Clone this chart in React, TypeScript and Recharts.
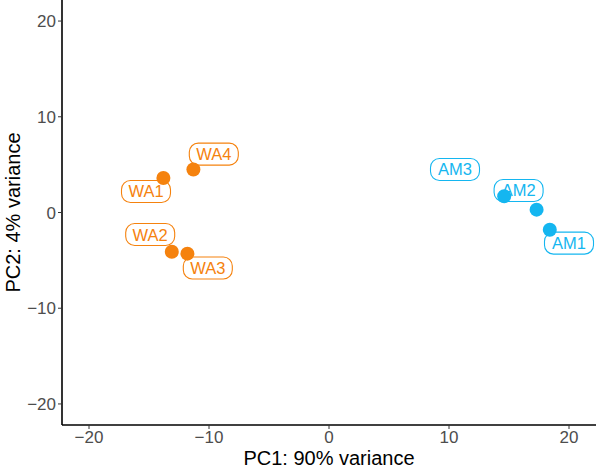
import { ScatterChart, Scatter, XAxis, YAxis } from 'recharts';

const sampleNames = ['WA1', 'WA2', 'WA3', 'WA4', 'AM1', 'AM2', 'AM3'];
const sampleGroup = ['WA', 'WA', 'WA', 'WA', 'AM', 'AM', 'AM'];
const pc1 = [-13.8, -13.1, -11.8, -11.3, 18.4, 17.3, 14.6];
const pc2 = [3.6, -4.1, -4.3, 4.5, -1.8, 0.3, 1.7];
// where the repelled labels ended up, in data units
const labelPc1 = [-15.25, -14.9, -10.1, -9.6, 20.0, 15.8, 10.5];
const labelPc2 = [2.2, -2.3, -5.8, 6.1, -3.2, 2.3, 4.5];
const axisTicks = [-20, -10, 0, 10, 20];

const colors: any = { WA: '#F5820E', AM: '#14B6F0' };
const font = '"Liberation Sans", Arial, sans-serif';

const rows = sampleNames.map((n, i) => ({
  name: n,
  group: sampleGroup[i],
  x: pc1[i],
  y: pc2[i],
  lx: labelPc1[i],
  ly: labelPc2[i],
}));

const pointRows = (g: string) => rows.filter(r => r.group === g);
const labelRows = (g: string) => rows.filter(r => r.group === g).map(r => ({ ...r, x: r.lx, y: r.ly }));

const fmt = (v: number) => String(v).replace('-', '\u2212');

function Dot(props: any) {
  const { cx, cy, fill } = props;
  return <circle cx={cx} cy={cy} r={7} fill={fill} />;
}

function LabelBox(props: any) {
  const { cx, cy, payload } = props;
  const c = colors[payload.group];
  const w = 49;
  const h = 22;
  return (
    <g>
      <rect x={cx - w / 2} y={cy - h / 2} width={w} height={h} rx={9} ry={9} fill="#fff" stroke={c} strokeWidth={1.1} />
      <text x={cx} y={cy} dy={6} textAnchor="middle" fontSize={16.5} fontFamily={font} fill={c}>
        {payload.name}
      </text>
    </g>
  );
}

export default function App() {
  return (
    <div style={{ position: 'absolute', left: 0, top: 0 }}>
      <ScatterChart width={596} height={469} margin={{ top: 0, right: 0, bottom: 0, left: 0 }}>
        <XAxis
          type="number"
          dataKey="x"
          domain={[-22.25, 22.25]}
          allowDataOverflow
          ticks={axisTicks}
          tickFormatter={fmt}
          height={44}
          tickSize={4}
          axisLine={{ stroke: '#000', strokeWidth: 1.6 }}
          tickLine={{ stroke: '#333' }}
          tick={{ fill: '#4D4D4D', fontSize: 17, fontFamily: font }}
          label={{ value: 'PC1: 90% variance', position: 'insideBottom', offset: 4, fill: '#000', fontSize: 20, fontFamily: font }}
        />
        <YAxis
          type="number"
          dataKey="y"
          domain={[-22.2, 22.2]}
          allowDataOverflow
          ticks={axisTicks}
          tickFormatter={fmt}
          width={62}
          tickSize={4}
          axisLine={{ stroke: '#000', strokeWidth: 1.6 }}
          tickLine={{ stroke: '#333' }}
          tick={{ fill: '#4D4D4D', fontSize: 17, fontFamily: font }}
          label={{ value: 'PC2: 4% variance', angle: -90, position: 'insideLeft', offset: 13, fill: '#000', fontSize: 20, fontFamily: font, style: { textAnchor: 'middle' } }}
        />
        <Scatter data={labelRows('WA')} shape={LabelBox} isAnimationActive={false} />
        <Scatter data={labelRows('AM')} shape={LabelBox} isAnimationActive={false} />
        <Scatter data={pointRows('WA')} fill={colors.WA} shape={Dot} isAnimationActive={false} />
        <Scatter data={pointRows('AM')} fill={colors.AM} shape={Dot} isAnimationActive={false} />
      </ScatterChart>
    </div>
  );
}
